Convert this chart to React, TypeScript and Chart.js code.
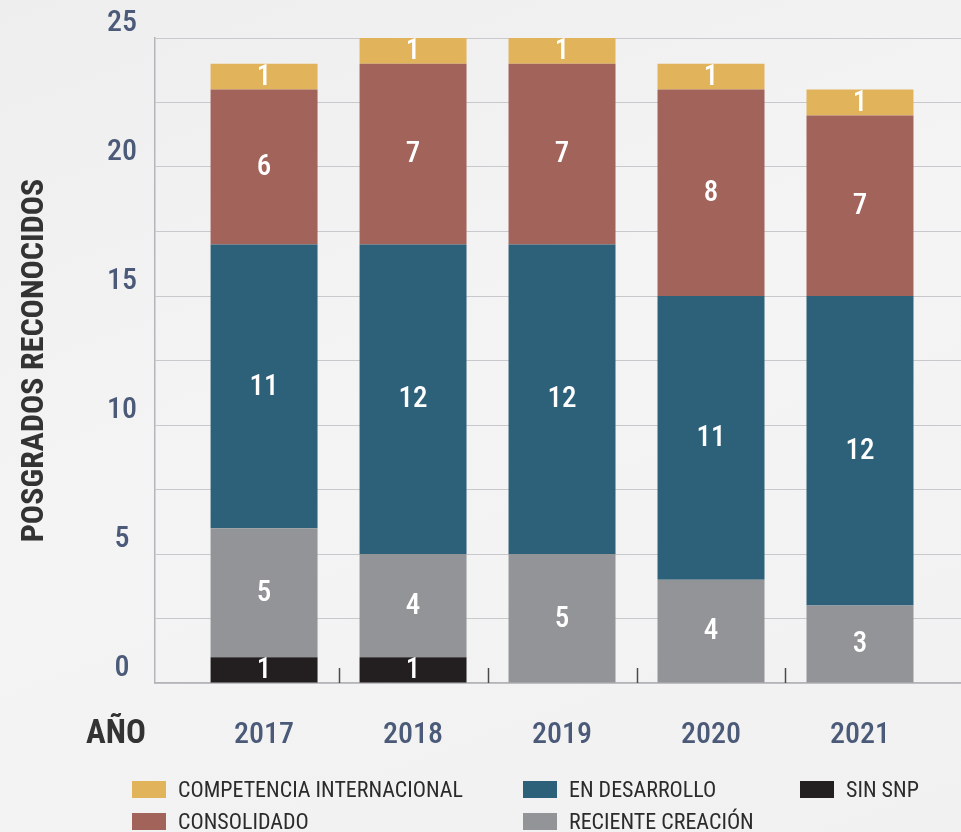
import React, { useEffect, useRef } from "react";
import { Chart, registerables } from "chart.js";

Chart.register(...registerables);

const years = ["2017", "2018", "2019", "2020", "2021"];
const sinSnp = [1, 1, 0, 0, 0];
const recienteCreacion = [5, 4, 5, 4, 3];
const enDesarrollo = [11, 12, 12, 11, 12];
const consolidado = [6, 7, 7, 8, 7];
const competenciaInternacional = [1, 1, 1, 1, 1];
const yTickLabels = [0, 5, 10, 15, 20, 25];

const FONT = "'Roboto Condensed', 'Liberation Sans Narrow', 'DejaVu Sans Condensed', Roboto, sans-serif";

const C_COMP = "#e1b35b";
const C_CONS = "#a2635a";
const C_DES = "#2d6079";
const C_REC = "#939498";
const C_SIN = "#231f20";

const legendItems = [
  { label: "COMPETENCIA INTERNACIONAL", color: C_COMP, col: 0, row: 0 },
  { label: "CONSOLIDADO", color: C_CONS, col: 0, row: 1 },
  { label: "EN DESARROLLO", color: C_DES, col: 1, row: 0 },
  { label: "RECIENTE CREACIÓN", color: C_REC, col: 1, row: 1 },
  { label: "SIN SNP", color: C_SIN, col: 2, row: 0 },
];
const legendColX = [132, 523, 800];
const legendRowY = [781, 813];

const valueLabels = {
  id: "valueLabels",
  afterDatasetsDraw(chart: any) {
    const ctx = chart.ctx;
    ctx.save();
    ctx.fillStyle = "#ffffff";
    ctx.font = `500 29px ${FONT}`;
    ctx.textAlign = "center";
    ctx.textBaseline = "middle";
    chart.data.datasets.forEach((ds: any, di: number) => {
      const meta = chart.getDatasetMeta(di);
      meta.data.forEach((el: any, i: number) => {
        const v = ds.data[i];
        if (!v) return;
        ctx.fillText(String(v), el.x, (el.y + el.base) / 2 + 1);
      });
    });
    ctx.restore();
  },
};

const extras = {
  id: "extras",
  afterDraw(chart: any) {
    const ctx = chart.ctx;
    const xs = chart.scales.x;
    const area = chart.chartArea;
    ctx.save();
    ctx.strokeStyle = "#4a4a4a";
    ctx.lineWidth = 1.5;
    for (let i = 0; i < years.length - 1; i++) {
      const px = Math.round(xs.getPixelForValue(Number(years[i]) + 0.5)) + 0.5;
      ctx.beginPath();
      ctx.moveTo(px, area.bottom - 15);
      ctx.lineTo(px, area.bottom);
      ctx.stroke();
    }
    ctx.fillStyle = "#333333";
    ctx.font = `bold 33px ${FONT}`;
    ctx.textAlign = "center";
    ctx.textBaseline = "middle";
    ctx.fillText("AÑO", area.left - 39, area.bottom + 52);
    ctx.restore();
  },
};

export default function App() {
  const ref = useRef<HTMLCanvasElement | null>(null);

  useEffect(() => {
    document.body.style.margin = "0";
    const canvas = ref.current;
    if (!canvas) return;
    const chart = new Chart(canvas, {
      type: "bar",
      data: {
        labels: years,
        datasets: [
          { label: "SIN SNP", data: sinSnp, backgroundColor: C_SIN },
          { label: "RECIENTE CREACIÓN", data: recienteCreacion, backgroundColor: C_REC },
          { label: "EN DESARROLLO", data: enDesarrollo, backgroundColor: C_DES },
          { label: "CONSOLIDADO", data: consolidado, backgroundColor: C_CONS },
          { label: "COMPETENCIA INTERNACIONAL", data: competenciaInternacional, backgroundColor: C_COMP },
        ],
      },
      options: {
        animation: false,
        responsive: false,
        maintainAspectRatio: false,
        layout: { padding: { top: 38, left: 0, right: 0, bottom: 0 } },
        datasets: { bar: { barPercentage: 0.718, categoryPercentage: 1 } },
        plugins: { legend: { display: false }, tooltip: { enabled: false } },
        scales: {
          x: {
            type: "linear",
            stacked: true,
            offset: false,
            min: 2016.268,
            max: 2021.678,
            afterFit(scale: any) {
              scale.height = 149;
              scale.paddingLeft = 0;
              scale.paddingRight = 0;
            },
            afterBuildTicks(scale: any) {
              scale.ticks = years.map((y) => ({ value: Number(y) }));
            },
            grid: { display: false, drawTicks: false, offset: false },
            border: { display: true, color: "#b5b5b9", width: 1.5 },
            ticks: {
              padding: 34,
              color: "#4b5a78",
              font: { family: FONT, size: 30, weight: "500", lineHeight: 1.2 },
              callback: (v: any) => String(v),
              autoSkip: false,
              maxRotation: 0,
            },
          },
          y: {
            stacked: true,
            min: 0,
            max: 25,
            afterFit(scale: any) {
              scale.width = 155;
              scale.paddingTop = 0;
              scale.paddingBottom = 0;
            },
            grid: { color: "#c9c9cd", lineWidth: 1, drawTicks: false },
            border: { display: true, color: "#b5b5b9", width: 1.5 },
            ticks: {
              stepSize: 2.5,
              padding: 18,
              crossAlign: "center",
              color: "#4b5a78",
              font: { family: FONT, size: 30, weight: "500", lineHeight: 1.0 },
              callback: (v: any) => (yTickLabels.includes(Number(v)) ? [String(v), ""] : ""),
            },
            title: {
              display: true,
              text: "POSGRADOS RECONOCIDOS",
              color: "#333333",
              font: { family: FONT, size: 32, weight: "bold", lineHeight: 1.2 },
              padding: { top: 16, bottom: 0 },
            },
          },
        },
      },
      plugins: [valueLabels, extras],
    });
    return () => chart.destroy();
  }, []);

  return (
    <div
      style={{
        position: "relative",
        width: 961,
        height: 832,
        overflow: "hidden",
        background: "linear-gradient(160deg, #eeeeef 0%, #f4f4f5 45%, #f1f1f2 100%)",
      }}
    >
      <canvas ref={ref} width={961} height={832} style={{ display: "block" }} />
      {legendItems.map((it) => (
        <div
          key={it.label}
          style={{
            position: "absolute",
            left: legendColX[it.col],
            top: legendRowY[it.row],
            height: 17,
            display: "flex",
            alignItems: "center",
            fontFamily: FONT,
            fontSize: 22,
            color: "#2b2b2b",
            whiteSpace: "nowrap",
          }}
        >
          <span style={{ display: "inline-block", width: 34, height: 17, background: it.color, marginRight: 12 }} />
          <span>{it.label}</span>
        </div>
      ))}
    </div>
  );
}
